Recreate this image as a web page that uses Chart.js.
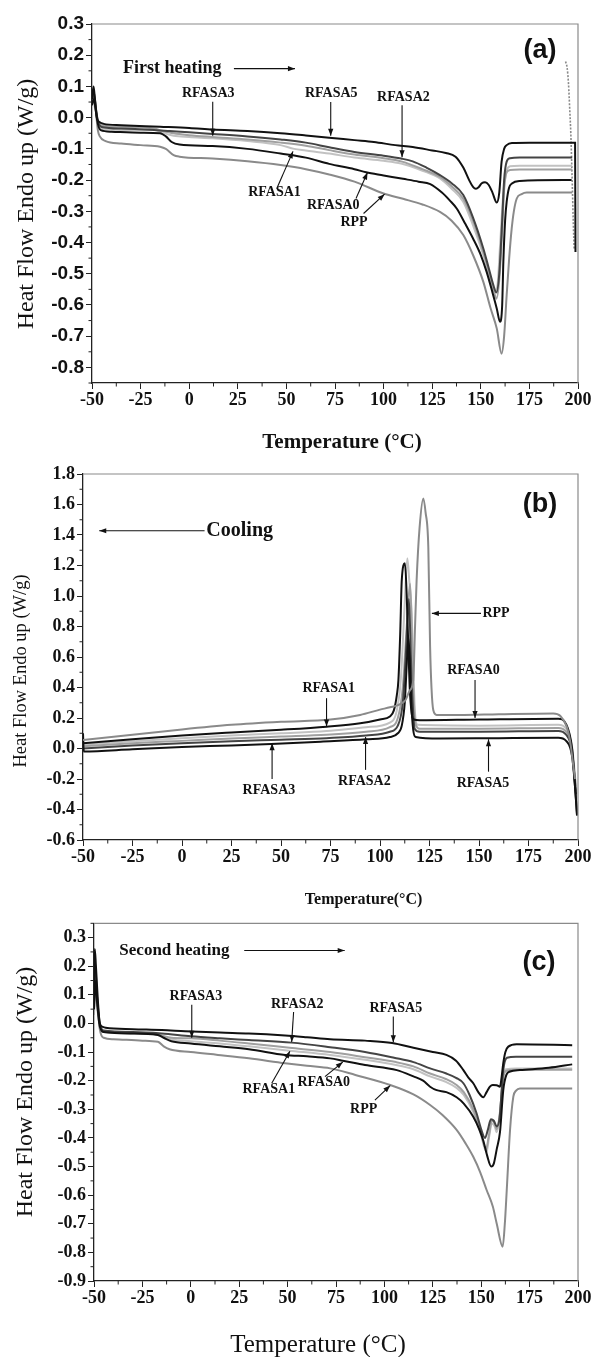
<!DOCTYPE html>
<html><head><meta charset="utf-8">
<script src="https://cdn.jsdelivr.net/npm/chart.js@4.4.1/dist/chart.umd.min.js"></script>
<style>
html,body{margin:0;padding:0;background:#fff;}
#wrap{position:relative;width:592px;height:1357px;overflow:hidden;}
canvas{position:absolute;left:0;}
</style></head><body>
<div id="wrap">
<canvas id="ca" width="592" height="455" style="top:0"></canvas>
<canvas id="cb" width="592" height="455" style="top:455px"></canvas>
<canvas id="cc" width="592" height="447" style="top:910px"></canvas>
</div>
<script>
// ---------- shared axis ----------
const xTickLabels = ['-50','-25','0','25','50','75','100','125','150','175','200'];
const seriesNames = ['RPP','RFASA0','RFASA1','RFASA2','RFASA3','RFASA5'];

// ---------- (a) First heating : [temperature °C, heat flow W/g] ----------
const a_RFASA5 = [[-50,0.06],[-49.2,0.1],[-48.5,0.06],[-47.5,0.0],[-46,-0.015],[-44,-0.02],[-35,-0.024],[-15,-0.029],[0,-0.033],[12,-0.038],[30,-0.043],[47,-0.05],[60,-0.057],[72,-0.064],[85,-0.072],[95,-0.078],[106,-0.088],[115,-0.094],[125,-0.105],[132,-0.113],[137,-0.125],[141,-0.16],[144,-0.2],[146,-0.222],[147.5,-0.228],[149,-0.222],[150.5,-0.21],[152.2,-0.207],[154,-0.215],[156,-0.24],[158.2,-0.272],[159.5,-0.24],[160.7,-0.141],[162,-0.1],[163.3,-0.088],[166,-0.081],[175,-0.08],[198.5,-0.08],[198.7,-0.43]];
const a_RFASA0 = [[-50,0.04],[-49,0.06],[-48,0.02],[-47,-0.02],[-45.5,-0.04],[-40,-0.045],[-25,-0.048],[-15,-0.05],[-12,-0.06],[-9,-0.078],[-5,-0.086],[12,-0.091],[30,-0.1],[47,-0.115],[60,-0.128],[72,-0.148],[85,-0.165],[91,-0.175],[100,-0.185],[110,-0.196],[118,-0.205],[124,-0.213],[130,-0.24],[134,-0.265],[137.6,-0.291],[142,-0.34],[146,-0.387],[150,-0.44],[153,-0.494],[156,-0.56],[158.2,-0.611],[159.9,-0.654],[161,-0.6],[161.6,-0.462],[162.5,-0.33],[163.3,-0.27],[164.5,-0.225],[166,-0.211],[170,-0.203],[196.7,-0.2]];
const a_RFASA2 = [[-50,0.05],[-49,0.08],[-48,0.03],[-47,-0.01],[-45,-0.03],[-35,-0.035],[-17,-0.04],[-10,-0.043],[0,-0.047],[12,-0.052],[30,-0.06],[47,-0.07],[60,-0.08],[72,-0.095],[85,-0.11],[100,-0.122],[109,-0.131],[115,-0.14],[122,-0.16],[129,-0.184],[135,-0.21],[141,-0.248],[146,-0.32],[151.3,-0.419],[154,-0.48],[156.5,-0.537],[158,-0.56],[159.5,-0.5],[161,-0.33],[162,-0.2],[163.3,-0.141],[165,-0.13],[170,-0.128],[197,-0.128]];
const a_RFASA3 = [[-50,0.04],[-49,0.07],[-48,0.03],[-47,-0.01],[-45,-0.025],[-30,-0.03],[-18,-0.035],[-15,-0.04],[-8,-0.05],[0,-0.056],[12,-0.062],[30,-0.07],[47,-0.08],[60,-0.09],[72,-0.104],[85,-0.118],[100,-0.13],[109,-0.14],[120,-0.165],[129,-0.19],[135,-0.22],[141,-0.26],[146,-0.33],[151.3,-0.43],[154,-0.49],[156.5,-0.55],[158,-0.58],[159.5,-0.52],[161,-0.36],[162,-0.23],[163.3,-0.175],[165,-0.168],[170,-0.166],[197,-0.166]];
const a_RFASA1 = [[-50,0.03],[-49,0.06],[-48,0.02],[-47,-0.02],[-45,-0.035],[-30,-0.04],[-18,-0.038],[-15,-0.045],[-8,-0.058],[0,-0.062],[12,-0.066],[30,-0.075],[47,-0.088],[54,-0.1],[60,-0.105],[72,-0.115],[85,-0.128],[100,-0.138],[109,-0.147],[120,-0.17],[129,-0.195],[135,-0.228],[141,-0.27],[146,-0.345],[151.3,-0.44],[154,-0.5],[157,-0.558],[158.5,-0.54],[160,-0.4],[161.5,-0.25],[163.3,-0.17],[165,-0.156],[170,-0.154],[197,-0.154]];
const a_RPP = [[-50,0.05],[-49,0.07],[-48,0.02],[-47,-0.04],[-46,-0.06],[-43,-0.075],[-35,-0.083],[-25,-0.088],[-15,-0.093],[-12,-0.1],[-8,-0.12],[-5,-0.125],[12,-0.131],[30,-0.14],[47,-0.152],[60,-0.165],[72,-0.182],[85,-0.205],[100,-0.243],[110,-0.26],[120,-0.278],[129,-0.302],[135,-0.33],[141,-0.376],[146,-0.44],[151.3,-0.526],[155,-0.61],[158.2,-0.675],[160.7,-0.756],[162,-0.7],[163.3,-0.569],[164.6,-0.45],[165.9,-0.355],[167,-0.3],[168.5,-0.259],[171,-0.245],[173.6,-0.24],[197,-0.24]];
const a_runEnd = [[193.6,0.18],[194.4,0.16],[195.1,0.11],[195.8,0.02],[196.3,-0.05],[197,-0.2],[197.6,-0.34],[198,-0.42]];

// ---------- (b) Cooling ----------
const b_RFASA0 = [[-50,0.035],[-25,0.06],[0,0.085],[25,0.105],[50,0.123],[73,0.143],[90,0.165],[100,0.19],[105,0.21],[107,0.25],[108.5,0.35],[109.3,0.449],[110.2,0.75],[111,1.105],[112.6,1.214],[113.5,1.0],[114.3,0.668],[115,0.4],[116,0.23],[117,0.19],[120,0.185],[150,0.19],[190,0.195],[194,0.16],[197,0.0],[198.5,-0.25],[199.5,-0.43]];
const b_RFASA5 = [[-50,0.1],[-49.6,-0.02],[-25,-0.005],[0,0.01],[25,0.02],[45,0.03],[70,0.045],[93,0.06],[105,0.075],[109,0.1],[111,0.15],[112.5,0.3],[113.5,0.55],[114.3,0.73],[115,0.6],[115.8,0.3],[116.8,0.12],[118,0.075],[130,0.065],[160,0.068],[190,0.07],[194,0.05],[197,-0.05],[198.5,-0.25],[199.5,-0.44]];
const b_RFASA2 = [[-50,0.0],[-25,0.02],[0,0.035],[25,0.048],[50,0.058],[73,0.068],[93,0.085],[105,0.11],[109,0.15],[111.5,0.3],[113,0.6],[114.6,0.98],[115.6,0.6],[116.5,0.3],[117.5,0.13],[120,0.11],[150,0.11],[190,0.115],[194,0.09],[197,-0.02],[199,-0.3]];
const b_RFASA3 = [[-50,0.015],[-25,0.035],[0,0.05],[25,0.065],[50,0.078],[73,0.09],[93,0.11],[105,0.14],[109,0.2],[111.5,0.4],[113.5,0.8],[115.2,1.08],[116,0.8],[116.8,0.4],[118,0.16],[120,0.13],[150,0.13],[190,0.135],[194,0.11],[197,0.0],[199,-0.28]];
const b_RFASA1 = [[-50,0.025],[-25,0.048],[0,0.068],[25,0.085],[50,0.1],[73,0.115],[93,0.14],[105,0.17],[108.5,0.25],[110.5,0.45],[112.3,0.9],[113.8,1.247],[114.8,1.1],[116,0.886],[117,0.45],[117.7,0.23],[119,0.155],[150,0.15],[190,0.155],[194,0.13],[197,0.01],[199,-0.25]];
const b_RPP = [[-50,0.055],[-25,0.09],[0,0.125],[25,0.155],[50,0.175],[75,0.19],[90,0.22],[100,0.255],[105,0.27],[110,0.29],[113,0.32],[115,0.38],[116.8,0.449],[117.7,0.8],[118.5,1.105],[120,1.45],[121.9,1.64],[123,1.55],[124.4,1.32],[125.3,0.668],[126,0.4],[126.9,0.252],[128.6,0.22],[140,0.22],[160,0.225],[187.5,0.23],[191,0.215],[194.3,0.143],[196,0.05],[197.5,-0.1],[198.5,-0.2]];

// ---------- (c) Second heating ----------
const c_RFASA5 = [[-50,0.1],[-49.6,0.26],[-49,0.2],[-48,0.08],[-47,0.0],[-45.5,-0.012],[-44,-0.015],[-30,-0.02],[-15,-0.023],[-3,-0.027],[15,-0.032],[30,-0.035],[48.7,-0.042],[60,-0.048],[72,-0.055],[90,-0.06],[104,-0.068],[115,-0.085],[125,-0.1],[132,-0.11],[137,-0.13],[140.8,-0.163],[143.5,-0.19],[145.9,-0.209],[148.5,-0.24],[151.1,-0.258],[152.8,-0.24],[154.5,-0.221],[156,-0.215],[158,-0.216],[159.7,-0.221],[160.5,-0.19],[161.4,-0.139],[162.5,-0.1],[164,-0.081],[168.3,-0.073],[197,-0.076]];
const c_RFASA0 = [[-50,0.05],[-49.5,0.15],[-48.5,0.08],[-47,-0.01],[-45,-0.03],[-30,-0.035],[-17,-0.04],[-14,-0.05],[-10,-0.062],[0,-0.07],[15,-0.08],[30,-0.09],[48.7,-0.11],[60,-0.115],[72,-0.122],[78.5,-0.13],[90,-0.145],[106.4,-0.163],[115,-0.185],[120,-0.2],[123.6,-0.221],[127,-0.233],[132,-0.24],[137.3,-0.258],[141,-0.28],[145.9,-0.326],[149,-0.37],[151.1,-0.41],[153,-0.46],[155.2,-0.5],[156.5,-0.49],[158,-0.44],[159.7,-0.38],[161.4,-0.233],[163,-0.18],[164.9,-0.168],[170,-0.163],[185,-0.155],[197,-0.143]];
const c_RFASA2 = [[-50,0.05],[-49.5,0.2],[-48.5,0.1],[-47,0.0],[-45,-0.025],[-30,-0.03],[-15,-0.035],[0,-0.045],[15,-0.052],[30,-0.058],[52,-0.067],[72,-0.083],[90,-0.1],[105,-0.12],[115,-0.135],[123.6,-0.157],[132,-0.175],[137,-0.19],[140.8,-0.209],[144,-0.25],[147.6,-0.314],[150,-0.37],[152,-0.4],[153.5,-0.37],[155,-0.335],[156.5,-0.34],[158,-0.36],[159.5,-0.33],[161.4,-0.163],[163.3,-0.12],[168,-0.116],[197,-0.116]];
const c_RFASA3 = [[-50,0.03],[-49.5,0.16],[-48.5,0.07],[-47,-0.01],[-45,-0.03],[-30,-0.035],[-17,-0.04],[-10,-0.05],[0,-0.052],[15,-0.06],[30,-0.07],[51,-0.085],[72,-0.1],[90,-0.118],[106,-0.135],[115,-0.15],[123.6,-0.175],[132,-0.195],[137.3,-0.215],[141,-0.24],[145.9,-0.3],[149.5,-0.37],[152.5,-0.44],[154,-0.39],[155.5,-0.34],[157,-0.35],[158,-0.37],[159.5,-0.32],[161.4,-0.19],[163,-0.165],[168,-0.162],[197,-0.162]];
const c_RFASA1 = [[-50,0.04],[-49.5,0.18],[-48.5,0.08],[-47,-0.01],[-45,-0.03],[-30,-0.033],[-17,-0.037],[-14,-0.045],[-10,-0.055],[0,-0.062],[15,-0.07],[30,-0.08],[51,-0.095],[72,-0.11],[90,-0.127],[106,-0.145],[115,-0.16],[123.6,-0.185],[132,-0.205],[137.3,-0.225],[141,-0.25],[145.9,-0.31],[149.5,-0.38],[152.8,-0.45],[154,-0.4],[155.5,-0.35],[157,-0.36],[158,-0.38],[159.5,-0.33],[161.4,-0.18],[163,-0.16],[168,-0.157],[197,-0.157]];
const c_RPP = [[-50,0.04],[-49.5,0.22],[-48.5,0.1],[-47,-0.02],[-45,-0.05],[-40,-0.055],[-25,-0.06],[-17,-0.064],[-14,-0.08],[-11,-0.09],[0,-0.1],[14,-0.11],[30,-0.122],[48.7,-0.139],[60,-0.148],[72,-0.157],[85,-0.18],[103,-0.215],[115,-0.248],[123.6,-0.285],[130,-0.32],[137.3,-0.372],[142,-0.42],[145.9,-0.466],[149.5,-0.52],[152.8,-0.582],[156,-0.64],[158,-0.699],[161.1,-0.78],[162.2,-0.7],[163.2,-0.582],[164.9,-0.372],[166.6,-0.256],[168,-0.235],[170,-0.227],[197,-0.227]];

// ---------- annotation text anchors (data units) ----------
const a_notes = [['RFASA3',9.8,0.078],['RFASA5',73.1,0.078],['RFASA2',110.2,0.065],['RFASA1',43.9,-0.24],['RFASA0',74.1,-0.28],['RPP',84.8,-0.334]];
const a_arrows = [[12.1,0.051,12.1,-0.058],[72.8,0.05,72.8,-0.058],[109.5,0.04,109.5,-0.127],[45,-0.228,53.4,-0.108],[85.8,-0.259,91.7,-0.176],[89.7,-0.307,100.5,-0.245],[23,0.157,54.4,0.157]];
const b_notes = [['RPP',158.6,0.886],['RFASA0',147.2,0.515],['RFASA1',74.1,0.395],['RFASA3',43.9,-0.272],['RFASA2',92.1,-0.218],['RFASA5',152,-0.228]];
const b_arrows = [[11.4,1.428,-41.8,1.428],[151,0.886,126.2,0.886],[148,0.45,148,0.2],[73,0.33,73,0.145],[45.5,-0.2,45.5,0.035],[92.7,-0.14,92.7,0.075],[154.8,-0.152,154.8,0.06]];
const c_notes = [['RFASA3',2.6,0.094],['RFASA2',55,0.068],['RFASA5',105.9,0.053],['RFASA1',40.3,-0.23],['RFASA0',68.7,-0.205],['RPP',89.3,-0.3]];
const c_arrows = [[0.5,0.065,0.5,-0.05],[53.1,0.04,52.1,-0.065],[104.6,0.024,104.6,-0.066],[41.8,-0.209,51.2,-0.097],[69.3,-0.186,78.5,-0.135],[95.1,-0.268,103,-0.217],[27.6,0.255,79.5,0.255]];

// ---------- drawing helpers ----------
function arrowLine(ctx,x1,y1,x2,y2){
  ctx.beginPath();ctx.moveTo(x1,y1);ctx.lineTo(x2,y2);ctx.stroke();
  const a=Math.atan2(y2-y1,x2-x1),L=7,W=2.6;
  ctx.beginPath();ctx.moveTo(x2,y2);
  ctx.lineTo(x2-L*Math.cos(a)+W*Math.sin(a),y2-L*Math.sin(a)-W*Math.cos(a));
  ctx.lineTo(x2-L*Math.cos(a)-W*Math.sin(a),y2-L*Math.sin(a)+W*Math.cos(a));
  ctx.closePath();ctx.fill();
}
const annotPlugin = {
  id:'annot',
  afterDraw(chart){
    const o = chart.options.plugins.annot; if(!o) return;
    const ctx = chart.ctx, xs = chart.scales.x, ys = chart.scales.y, ca = chart.chartArea;
    ctx.save();
    // frame top/right
    ctx.strokeStyle='#8a8a8a'; ctx.lineWidth=1.2;
    ctx.beginPath(); ctx.moveTo(ca.left,ca.top); ctx.lineTo(ca.right,ca.top); ctx.lineTo(ca.right,ca.bottom); ctx.stroke();
    // minor ticks
    ctx.strokeStyle='#222'; ctx.lineWidth=1;
    for(let v=-50+12.5; v<200; v+=25){ const p=xs.getPixelForValue(v); ctx.beginPath(); ctx.moveTo(p,ca.bottom); ctx.lineTo(p,ca.bottom+3.5); ctx.stroke(); }
    const ym=o.yMinor; let v0=Math.ceil(ys.min/ym-1e-9)*ym;
    for(let v=v0; v<=ys.max+1e-9; v+=ym){ const k=Math.round(v/ym); if(k%2===0) continue; const p=ys.getPixelForValue(v); ctx.beginPath(); ctx.moveTo(ca.left-3.5,p); ctx.lineTo(ca.left,p); ctx.stroke(); }
    // series labels
    ctx.fillStyle='#111'; ctx.textAlign='center'; ctx.textBaseline='middle';
    ctx.font='bold 14px "Liberation Serif", "Times New Roman", serif';
    o.notes.forEach(n=>ctx.fillText(n[0], xs.getPixelForValue(n[1]), ys.getPixelForValue(n[2])));
    ctx.strokeStyle='#111'; ctx.lineWidth=1.1;
    o.arrows.forEach(a=>arrowLine(ctx,xs.getPixelForValue(a[0]),ys.getPixelForValue(a[1]),xs.getPixelForValue(a[2]),ys.getPixelForValue(a[3])));
    // process label
    ctx.textAlign='left'; ctx.font=o.procFont;
    ctx.fillText(o.proc[0], xs.getPixelForValue(o.proc[1]), ys.getPixelForValue(o.proc[2]));
    // panel tag
    ctx.textAlign='center'; ctx.font='bold 27px "Liberation Sans", Arial, sans-serif';
    ctx.fillText(o.tag[0], o.tag[1], o.tag[2]);
    // axis titles
    ctx.font=o.xTitle[3]; ctx.fillText(o.xTitle[0], o.xTitle[1], o.xTitle[2]);
    ctx.translate(o.yTitle[1], o.yTitle[2]); ctx.rotate(-Math.PI/2);
    ctx.font=o.yTitle[3]; ctx.fillText(o.yTitle[0], 0, 0);
    ctx.restore();
  }
};
Chart.register(annotPlugin);

function fmt(v){ let s=(Math.round(v*10)/10).toFixed(1); if(s==='-0.0') s='0.0'; return s; }

function makePanel(id, p){
  const datasets = p.series.map(s=>({
    label:s[0], data:s[1].map(q=>({x:q[0],y:q[1]})), borderColor:s[2], borderWidth:s[3]||2,
    borderDash:s[4]||[], pointRadius:0, fill:false, cubicInterpolationMode:'monotone'
  }));
  new Chart(document.getElementById(id),{
    type:'line', data:{datasets},
    options:{
      responsive:false, animation:false, devicePixelRatio:1,
      layout:{padding:{left:0,top:p.top,right:14,bottom:0}},
      plugins:{legend:{display:false},tooltip:{enabled:false},annot:p.annot},
      scales:{
        x:{type:'linear',min:-50,max:200,
          ticks:{stepSize:25,autoSkip:false,maxRotation:0,maxTicksLimit:30,padding:1,color:'#111',font:p.xFont,
            callback:(v)=>{const i=xTickLabels.indexOf(String(v)); return i>=0?xTickLabels[i]:'';}},
          grid:{drawOnChartArea:false,drawTicks:true,tickLength:6,color:'#222',lineWidth:1},
          border:{color:'#222',width:1.3},
          afterFit(s){s.height=p.xh;s.paddingLeft=0;s.paddingRight=0;}},
        y:{type:'linear',min:p.ymin,max:p.ymax,
          ticks:{stepSize:p.ystep,includeBounds:false,maxTicksLimit:40,padding:2,color:'#111',font:p.yFont,callback:(v)=>fmt(v)},
          grid:{drawOnChartArea:false,drawTicks:true,tickLength:6,color:'#222',lineWidth:1},
          border:{color:'#222',width:1.3},
          afterFit(s){s.width=p.left;s.paddingTop=0;s.paddingBottom=0;}}
      }
    }
  });
}

const BLK='#111111', DGR='#444444', MGR='#8a8a8a', GR2='#a0a0a0', LGR='#c2c2c2';
const serifB = (n)=>({family:'"Liberation Serif", "Times New Roman", serif', size:n, weight:'bold'});

makePanel('ca',{
  top:24, xh:72, left:92, ymin:-0.85, ymax:0.3, ystep:0.1,
  xFont:serifB(18), yFont:{family:'"Liberation Sans", Arial, sans-serif', size:19, weight:'bold'},
  series:[[seriesNames[5],a_RFASA5,BLK],[seriesNames[1],a_RFASA0,BLK],[seriesNames[3],a_RFASA2,DGR],
          [seriesNames[4],a_RFASA3,GR2],[seriesNames[2],a_RFASA1,LGR],[seriesNames[0],a_RPP,MGR],
          ['run end',a_runEnd,MGR,1.6,[2,1.5]]],
  annot:{yMinor:0.05, notes:a_notes, arrows:a_arrows,
    proc:['First heating',-34,0.157], procFont:'bold 18px "Liberation Serif", serif',
    tag:['(a)',540,51],
    xTitle:['Temperature (°C)',342,443,'bold 21px "Liberation Serif", serif'],
    yTitle:['Heat Flow Endo up (W/g)',26.5,204,'24px "Liberation Serif", serif']}
});

makePanel('cb',{
  top:19, xh:70, left:83, ymin:-0.6, ymax:1.8, ystep:0.2,
  xFont:serifB(18), yFont:serifB(18),
  series:[[seriesNames[0],b_RPP,MGR],[seriesNames[1],b_RFASA0,BLK],[seriesNames[5],b_RFASA5,BLK],
          [seriesNames[3],b_RFASA2,DGR],[seriesNames[4],b_RFASA3,GR2],[seriesNames[2],b_RFASA1,LGR]],
  annot:{yMinor:0.1, notes:b_notes, arrows:b_arrows,
    proc:['Cooling',12.3,1.428], procFont:'bold 20px "Liberation Serif", serif',
    tag:['(b)',540,50],
    xTitle:['Temperature(°C)',363.6,445,'bold 16px "Liberation Serif", serif'],
    yTitle:['Heat Flow Endo up (W/g)',21.5,216,'18.5px "Liberation Serif", serif']}
});

makePanel('cc',{
  top:13.3, xh:76, left:94, ymin:-0.9, ymax:0.35, ystep:0.1,
  xFont:serifB(18), yFont:serifB(18),
  series:[[seriesNames[5],c_RFASA5,BLK],[seriesNames[1],c_RFASA0,BLK],[seriesNames[3],c_RFASA2,DGR],
          [seriesNames[4],c_RFASA3,GR2],[seriesNames[2],c_RFASA1,LGR],[seriesNames[0],c_RPP,MGR]],
  annot:{yMinor:0.05, notes:c_notes, arrows:c_arrows,
    proc:['Second heating',-36.9,0.255], procFont:'bold 17px "Liberation Serif", serif',
    tag:['(c)',539,53],
    xTitle:['Temperature (°C)',318,435,'25px "Liberation Serif", serif'],
    yTitle:['Heat Flow Endo up (W/g)',25.5,182,'24px "Liberation Serif", serif']}
});
</script>
</body></html>
